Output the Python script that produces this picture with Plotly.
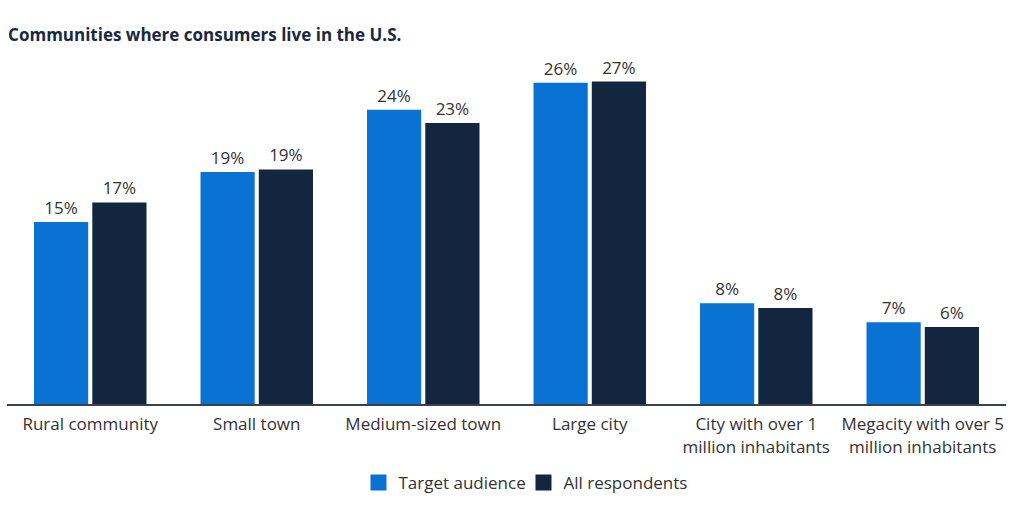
import plotly.graph_objects as go

categories = ["Rural community", "Small town", "Medium-sized town", "Large city",
              "City with over 1<br>million inhabitants", "Megacity with over 5<br>million inhabitants"]
target_values = [14.9, 19.0, 24.1, 26.3, 8.25, 6.7]
target_labels = ["15%", "19%", "24%", "26%", "8%", "7%"]
all_values = [16.5, 19.2, 23.0, 26.4, 7.85, 6.3]
all_labels = ["17%", "19%", "23%", "27%", "8%", "6%"]
series_names = ["Target audience", "All respondents"]

BLUE = "#0a72d3"
NAVY = "#12263f"
FONT = "Open Sans"
FS = 17

fig = go.Figure()
for vals, labels, name, color in [(target_values, target_labels, series_names[0], BLUE),
                                  (all_values, all_labels, series_names[1], NAVY)]:
    fig.add_trace(go.Bar(x=categories, y=vals, name=name, showlegend=False,
                         marker=dict(color=color, line=dict(width=0)),
                         text=labels, textposition="outside",
                         textfont=dict(family=FONT, size=FS, color="#333333"),
                         cliponaxis=False))
# legend entries with larger square swatches
for name, color in [(series_names[0], BLUE), (series_names[1], NAVY)]:
    fig.add_trace(go.Scatter(x=[None], y=[None], mode="markers", name=name,
                             marker=dict(symbol="square", size=17, color=color)))

fig.update_layout(
    width=1013, height=523,
    margin=dict(l=7, r=7, t=62, b=119),
    paper_bgcolor="white", plot_bgcolor="white",
    barmode="group", bargap=0.30, bargroupgap=0.07,
    title=dict(text="<b>Communities where consumers live in the U.S.</b>",
               x=0.008, xanchor="left", y=0.933, yanchor="middle",
               font=dict(family=FONT, size=17, color="#1a2840")),
    font=dict(family=FONT, size=FS, color="#333333"),
    xaxis=dict(showgrid=False, showline=True, linecolor="#3a4250", linewidth=2,
               ticks="", tickfont=dict(family=FONT, size=FS, color="#333333"),
               ticklabelstandoff=4),
    yaxis=dict(range=[0, 28], visible=False, showgrid=False, zeroline=False),
    legend=dict(orientation="h", x=0.517, xanchor="center", y=-0.231, yanchor="middle",
                font=dict(family=FONT, size=FS, color="#333333"),
                entrywidth=120, traceorder="normal"),
)

fig.write_html("out.html", config={"displayModeBar": False},
               post_script="document.body.style.margin='0';document.body.style.padding='0';")
